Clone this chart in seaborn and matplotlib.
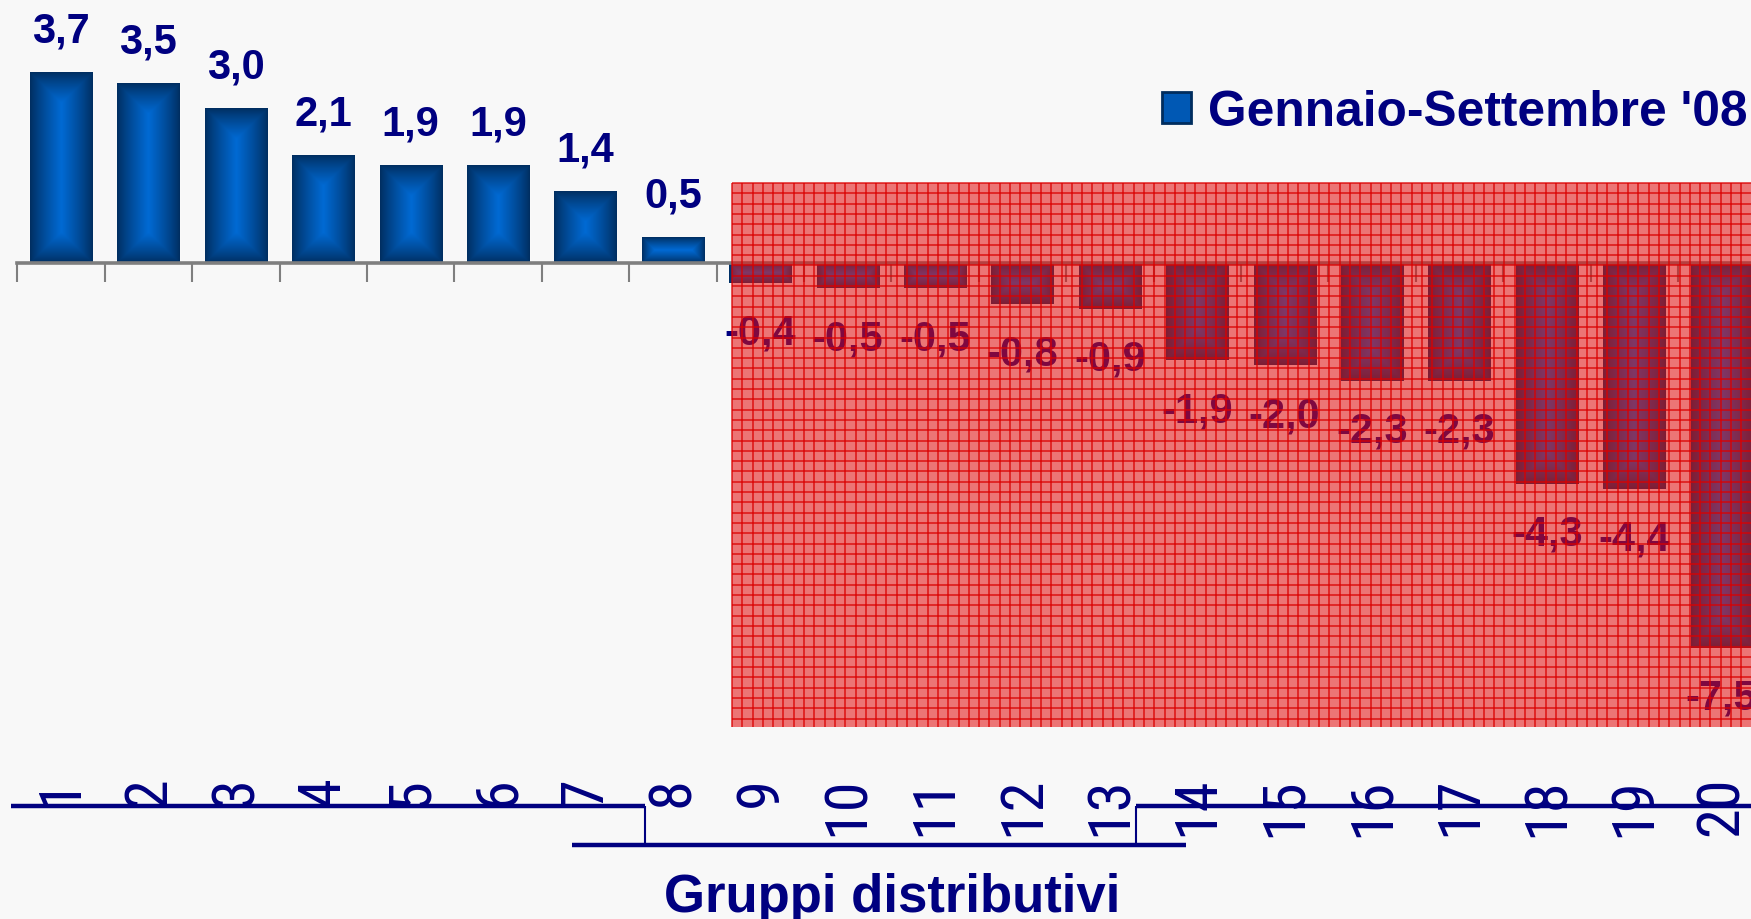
import numpy as np
import pandas as pd
import matplotlib
matplotlib.use("Agg")
import matplotlib.pyplot as plt
import seaborn as sns
from matplotlib.patches import Rectangle, Patch
from matplotlib.lines import Line2D
from matplotlib.collections import LineCollection
from matplotlib import font_manager as fm
from matplotlib.colors import to_rgb

# ---------------- data ----------------
groups = [str(i) for i in range(1, 21)]
values = [3.7, 3.5, 3.0, 2.1, 1.9, 1.9, 1.4, 0.5, -0.4, -0.5,
          -0.5, -0.8, -0.9, -1.9, -2.0, -2.3, -2.3, -4.3, -4.4, -7.5]
series_name = "Gennaio-Settembre '08"
axis_title = "Gruppi distributivi"

# ---------------- style ----------------
W, H, DPI = 1751, 920, 100
NAVY = "#000080"
BG = "#f8f8f8"
EDGE = np.array(to_rgb("#002d5e"))
CENTER = np.array(to_rgb("#006ad4"))
GRAY = "#7f7f7f"

sns.set_theme(style="white")
plt.rcParams['font.family'] = ['Liberation Sans', 'DejaVu Sans']

# pick a condensed face for the rotated category labels if one is installed
fonts = fm.fontManager.ttflist
names = {f.name for f in fonts}
tick_props = dict(family='Liberation Sans')
tick_size = 40
for cand in ['Liberation Sans Narrow', 'Arial Narrow', 'Roboto Condensed',
             'Open Sans Condensed', 'Noto Sans Condensed']:
    if cand in names:
        tick_props = dict(family=cand)
        tick_size = 43.5
        break
else:
    cond = [f for f in fonts if str(f.stretch).lower() in ('condensed', 'semi-condensed')
            and f.style == 'normal' and f.weight in (400, 'normal', 'regular')]
    pref = [f for f in cond if f.name in ('Liberation Sans', 'Noto Sans', 'Open Sans', 'Roboto',
                                          'DejaVu Sans')]
    pick = (pref or cond)
    if pick:
        tick_props = dict(fname=pick[0].fname)
        tick_size = 41.5

fig = plt.figure(figsize=(W / DPI, H / DPI), dpi=DPI, facecolor=BG)


def frac_rect(x0, y0, x1, y1):
    """pixel box (top-left origin) -> figure fraction rect"""
    return [x0 / W, 1 - y1 / H, (x1 - x0) / W, (y1 - y0) / H]


cat_w = 87.4
ax_left = 17.3
ax = fig.add_axes(frac_rect(ax_left, 0, ax_left + 20 * cat_w, 777))
ax.set_facecolor('none')

df = pd.DataFrame({"gruppo": groups, "valore": values, "periodo": series_name})
sns.barplot(data=df, x="gruppo", y="valore", hue="periodo", palette=[tuple(CENTER)],
            width=0.71, saturation=1, errorbar=None, legend=False, ax=ax)

zero_px = 263.5
unit_px = 51.4
ymax = zero_px / unit_px
ymin = -(777 - zero_px) / unit_px
ax.set_xlim(-0.5, 19.5)
ax.set_ylim(ymin, ymax)
ax.set_autoscale_on(False)

# rectangular "path" gradient on each bar
bars = ax.containers[0]
for p in bars:
    x0, y0 = p.get_x(), p.get_y()
    w, h = p.get_width(), p.get_height()
    (X0, Y0), (X1, Y1) = ax.transData.transform([(x0, y0), (x0 + w, y0 + h)])
    wp, hp = abs(X1 - X0), abs(Y1 - Y0)
    nx, ny = max(int(round(wp)), 2), max(int(round(hp)), 2)
    xs = (np.arange(nx) + 0.5) * wp / nx
    ys = (np.arange(ny) + 0.5) * hp / ny
    dx = np.minimum(xs, wp - xs)
    dy = np.minimum(ys, hp - ys)
    d = np.minimum(dx[None, :], dy[:, None])
    t = np.clip(d / (min(wp, hp) / 2), 0, 1) ** 0.85
    img = EDGE + (CENTER - EDGE) * t[..., None]
    ax.imshow(img, extent=[x0, x0 + w, y0, y0 + h], aspect='auto',
              interpolation='bilinear', zorder=p.get_zorder() + 0.01)
ax.set_xlim(-0.5, 19.5)
ax.set_ylim(ymin, ymax)

# axis line at zero with boundary ticks
for s in ['left', 'right', 'top']:
    ax.spines[s].set_visible(False)
ax.spines['bottom'].set_position(('data', 0))
ax.spines['bottom'].set_color(GRAY)
ax.spines['bottom'].set_linewidth(2.6)
ax.spines['bottom'].set_zorder(4)
ax.set_xticks(np.arange(-0.5, 20, 1), labels=[''] * 21)
ax.tick_params(axis='x', direction='out', length=14, width=1.5, color=GRAY, bottom=True)
ax.set_yticks([])
ax.set_xlabel('')
ax.set_ylabel('')

# category labels at the bottom
sec = ax.secondary_xaxis('bottom')
sec.set_xticks(range(20), labels=groups)
sec.tick_params(length=0, pad=0, labelrotation=90, labelcolor=NAVY, labelsize=tick_size)
for lab in sec.get_xticklabels():
    if 'fname' in tick_props:
        lab.set_fontproperties(fm.FontProperties(fname=tick_props['fname'], size=tick_size))
    else:
        lab.set_fontfamily(tick_props['family'])
sec.spines['bottom'].set_visible(False)

# value labels
lab_pos = [f"{v:.1f}".replace('.', ',') if v >= 0 else "" for v in values]
lab_neg = [f"{v:.1f}".replace('.', ',') if v < 0 else "" for v in values]
ax.bar_label(bars, labels=lab_pos, padding=15.4, color=NAVY, fontsize=30, fontweight='bold')
ax.bar_label(bars, labels=lab_neg, padding=21.5, color=NAVY, fontsize=30, fontweight='bold')

# translucent red hatched overlay
ov_x0, ov_y0, ov_x1, ov_y1 = 732, 184, W + 2, 728
fig.add_artist(Rectangle((ov_x0 / W, 1 - ov_y1 / H), (ov_x1 - ov_x0) / W, (ov_y1 - ov_y0) / H,
                         transform=fig.transFigure, facecolor=(0.89, 0.06, 0.06),
                         alpha=0.56, edgecolor='none', zorder=5))
step = 10.3
segs = []
for xv in np.arange(ov_x0, ov_x1, step):
    segs.append([(xv / W, 1 - ov_y0 / H), (xv / W, 1 - ov_y1 / H)])
for yv in np.arange(ov_y0, ov_y1, step):
    segs.append([(ov_x0 / W, 1 - yv / H), (ov_x1 / W, 1 - yv / H)])
fig.add_artist(LineCollection(segs, transform=fig.transFigure, colors=[(0.86, 0.0, 0.0)],
                              linewidths=1.1, alpha=0.85, zorder=6))

# bracket lines under the category labels
def hline(x0, x1, y, lw):
    fig.add_artist(Line2D([x0 / W, x1 / W], [1 - y / H, 1 - y / H], transform=fig.transFigure,
                          color=NAVY, lw=lw, solid_capstyle='butt'))

def vline(x, y0, y1, lw):
    fig.add_artist(Line2D([x / W, x / W], [1 - y0 / H, 1 - y1 / H], transform=fig.transFigure,
                          color=NAVY, lw=lw, solid_capstyle='butt'))

hline(11, 645, 807, 3.2)
hline(1136, W + 2, 807, 3.2)
hline(572, 1186, 846, 3.2)
vline(645, 807, 846, 1.5)
vline(1136, 807, 846, 1.5)

# legend
handle = Patch(facecolor="#0058b4", edgecolor="#002d5e", linewidth=2)
leg = fig.legend([handle], [series_name], loc='center right',
                 bbox_to_anchor=(1747 / W, 1 - 113 / H), frameon=False,
                 prop=dict(family='Liberation Sans', weight='bold', size=35.7),
                 handlelength=0.58, handleheight=0.6, handletextpad=0.33,
                 borderpad=0, borderaxespad=0)
for t in leg.get_texts():
    t.set_color(NAVY)

fig.text(892 / W, 1 - 912 / H, axis_title, ha='center', va='baseline',
         fontsize=38, fontweight='bold', color=NAVY)

fig.savefig('out.png', dpi=DPI, facecolor=BG)
